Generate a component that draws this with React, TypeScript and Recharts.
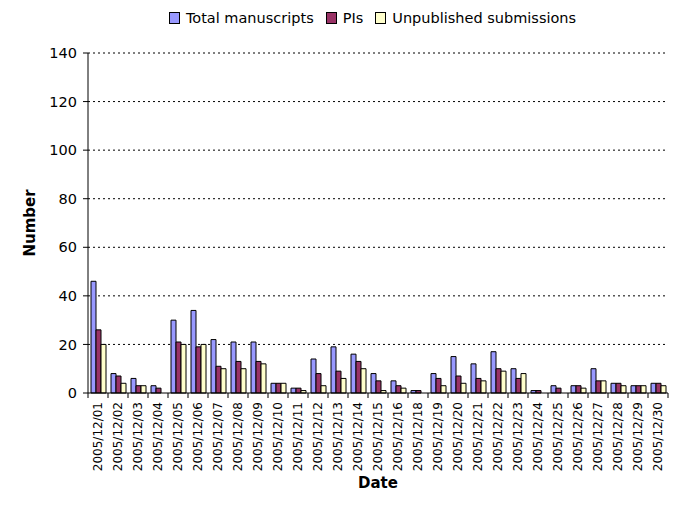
import React from "react";
import { BarChart, Bar, XAxis, YAxis, CartesianGrid, Label } from "recharts";

const dates = [
  "2005/12/01", "2005/12/02", "2005/12/03", "2005/12/04", "2005/12/05", "2005/12/06",
  "2005/12/07", "2005/12/08", "2005/12/09", "2005/12/10", "2005/12/11", "2005/12/12",
  "2005/12/13", "2005/12/14", "2005/12/15", "2005/12/16", "2005/12/18", "2005/12/19",
  "2005/12/20", "2005/12/21", "2005/12/22", "2005/12/23", "2005/12/24", "2005/12/25",
  "2005/12/26", "2005/12/27", "2005/12/28", "2005/12/29", "2005/12/30",
];
const totalManuscripts = [46, 8, 6, 3, 30, 34, 22, 21, 21, 4, 2, 14, 19, 16, 8, 5, 1, 8, 15, 12, 17, 10, 1, 3, 3, 10, 4, 3, 4];
const pis = [26, 7, 3, 2, 21, 19, 11, 13, 13, 4, 2, 8, 9, 13, 5, 3, 1, 6, 7, 6, 10, 6, 1, 2, 3, 5, 4, 3, 4];
const unpublished = [20, 4, 3, 0, 20, 20, 10, 10, 12, 4, 1, 3, 6, 10, 1, 2, 0, 3, 4, 5, 9, 8, 0, 0, 2, 5, 3, 3, 3];
const yTicks = [0, 20, 40, 60, 80, 100, 120, 140];

const series = [
  { key: "total", name: "Total manuscripts", color: "#9999FF" },
  { key: "pis", name: "PIs", color: "#993366" },
  { key: "unpub", name: "Unpublished submissions", color: "#FFFFCC" },
];

const data = dates.map((d, i) => ({
  date: d,
  total: totalManuscripts[i],
  pis: pis[i],
  unpub: unpublished[i],
}));

const W = 685;
const H = 510;
const MARGIN = { top: 53, right: 17, left: 0, bottom: 0 };
const Y_WIDTH = 88;
const X_HEIGHT = 117;
const FONT = "Verdana, 'DejaVu Sans', sans-serif";
const catWidth = (W - MARGIN.left - MARGIN.right - Y_WIDTH) / dates.length;

function DateTick(props: any) {
  const { x, y, payload, index } = props;
  const half = catWidth / 2;
  return (
    <g>
      <line x1={x - half} y1={y - 8} x2={x - half} y2={y - 3} stroke="#000" />
      {index === dates.length - 1 && (
        <line x1={x + half} y1={y - 8} x2={x + half} y2={y - 3} stroke="#000" />
      )}
      <text
        transform={`translate(${x + 4},${y + 1}) rotate(-90)`}
        textAnchor="end"
        fontSize={12}
        fontFamily={FONT}
        fill="#000"
      >
        {payload.value}
      </text>
    </g>
  );
}

function LegendBox() {
  return (
    <div
      style={{
        position: "absolute",
        left: 0,
        top: 9,
        width: W,
        paddingLeft: 60,
        boxSizing: "border-box",
        display: "flex",
        justifyContent: "center",
        fontFamily: FONT,
        fontSize: 14.5,
        color: "#000",
        lineHeight: "18px",
      }}
    >
      {series.map((s, i) => (
        <span
          key={s.key}
          style={{ display: "inline-flex", alignItems: "center", marginLeft: i === 0 ? 0 : 12 }}
        >
          <span
            style={{
              display: "inline-block",
              width: 9,
              height: 10,
              background: s.color,
              border: "1px solid #000",
              marginRight: 6,
            }}
          />
          {s.name}
        </span>
      ))}
    </div>
  );
}

export default function App() {
  return (
    <div style={{ position: "absolute", left: 0, top: 0, width: W, height: H, background: "#fff" }}>
      <LegendBox />
      <BarChart
        width={W}
        height={H}
        data={data}
        margin={MARGIN}
        barGap={0}
        barCategoryGap="15%"
      >
        <CartesianGrid
          vertical={false}
          stroke="#000"
          strokeDasharray="2 3"
          horizontalValues={yTicks.slice(1)}
        />
        <XAxis
          dataKey="date"
          interval={0}
          height={X_HEIGHT}
          tickLine={false}
          axisLine={{ stroke: "#000" }}
          tick={<DateTick />}
        >
          <Label value="Date" position="insideBottom" offset={22} fontSize={15} fontWeight="bold" fontFamily={FONT} fill="#000" />
        </XAxis>
        <YAxis
          domain={[0, 140]}
          ticks={yTicks}
          width={Y_WIDTH}
          tickLine={{ stroke: "#000" }}
          tickSize={5}
          axisLine={{ stroke: "#000" }}
          tick={{ fontSize: 14.5, fontFamily: FONT, fill: "#000" }}
          tickMargin={6}
        >
          <Label
            value="Number"
            angle={-90}
            position="insideLeft"
            offset={30}
            fontSize={15}
            fontWeight="bold"
            fontFamily={FONT}
            fill="#000"
            style={{ textAnchor: "middle" }}
          />
        </YAxis>
        {series.map((s) => (
          <Bar
            key={s.key}
            dataKey={s.key}
            name={s.name}
            fill={s.color}
            stroke="#000"
            strokeWidth={1}
            isAnimationActive={false}
          />
        ))}
      </BarChart>
    </div>
  );
}
